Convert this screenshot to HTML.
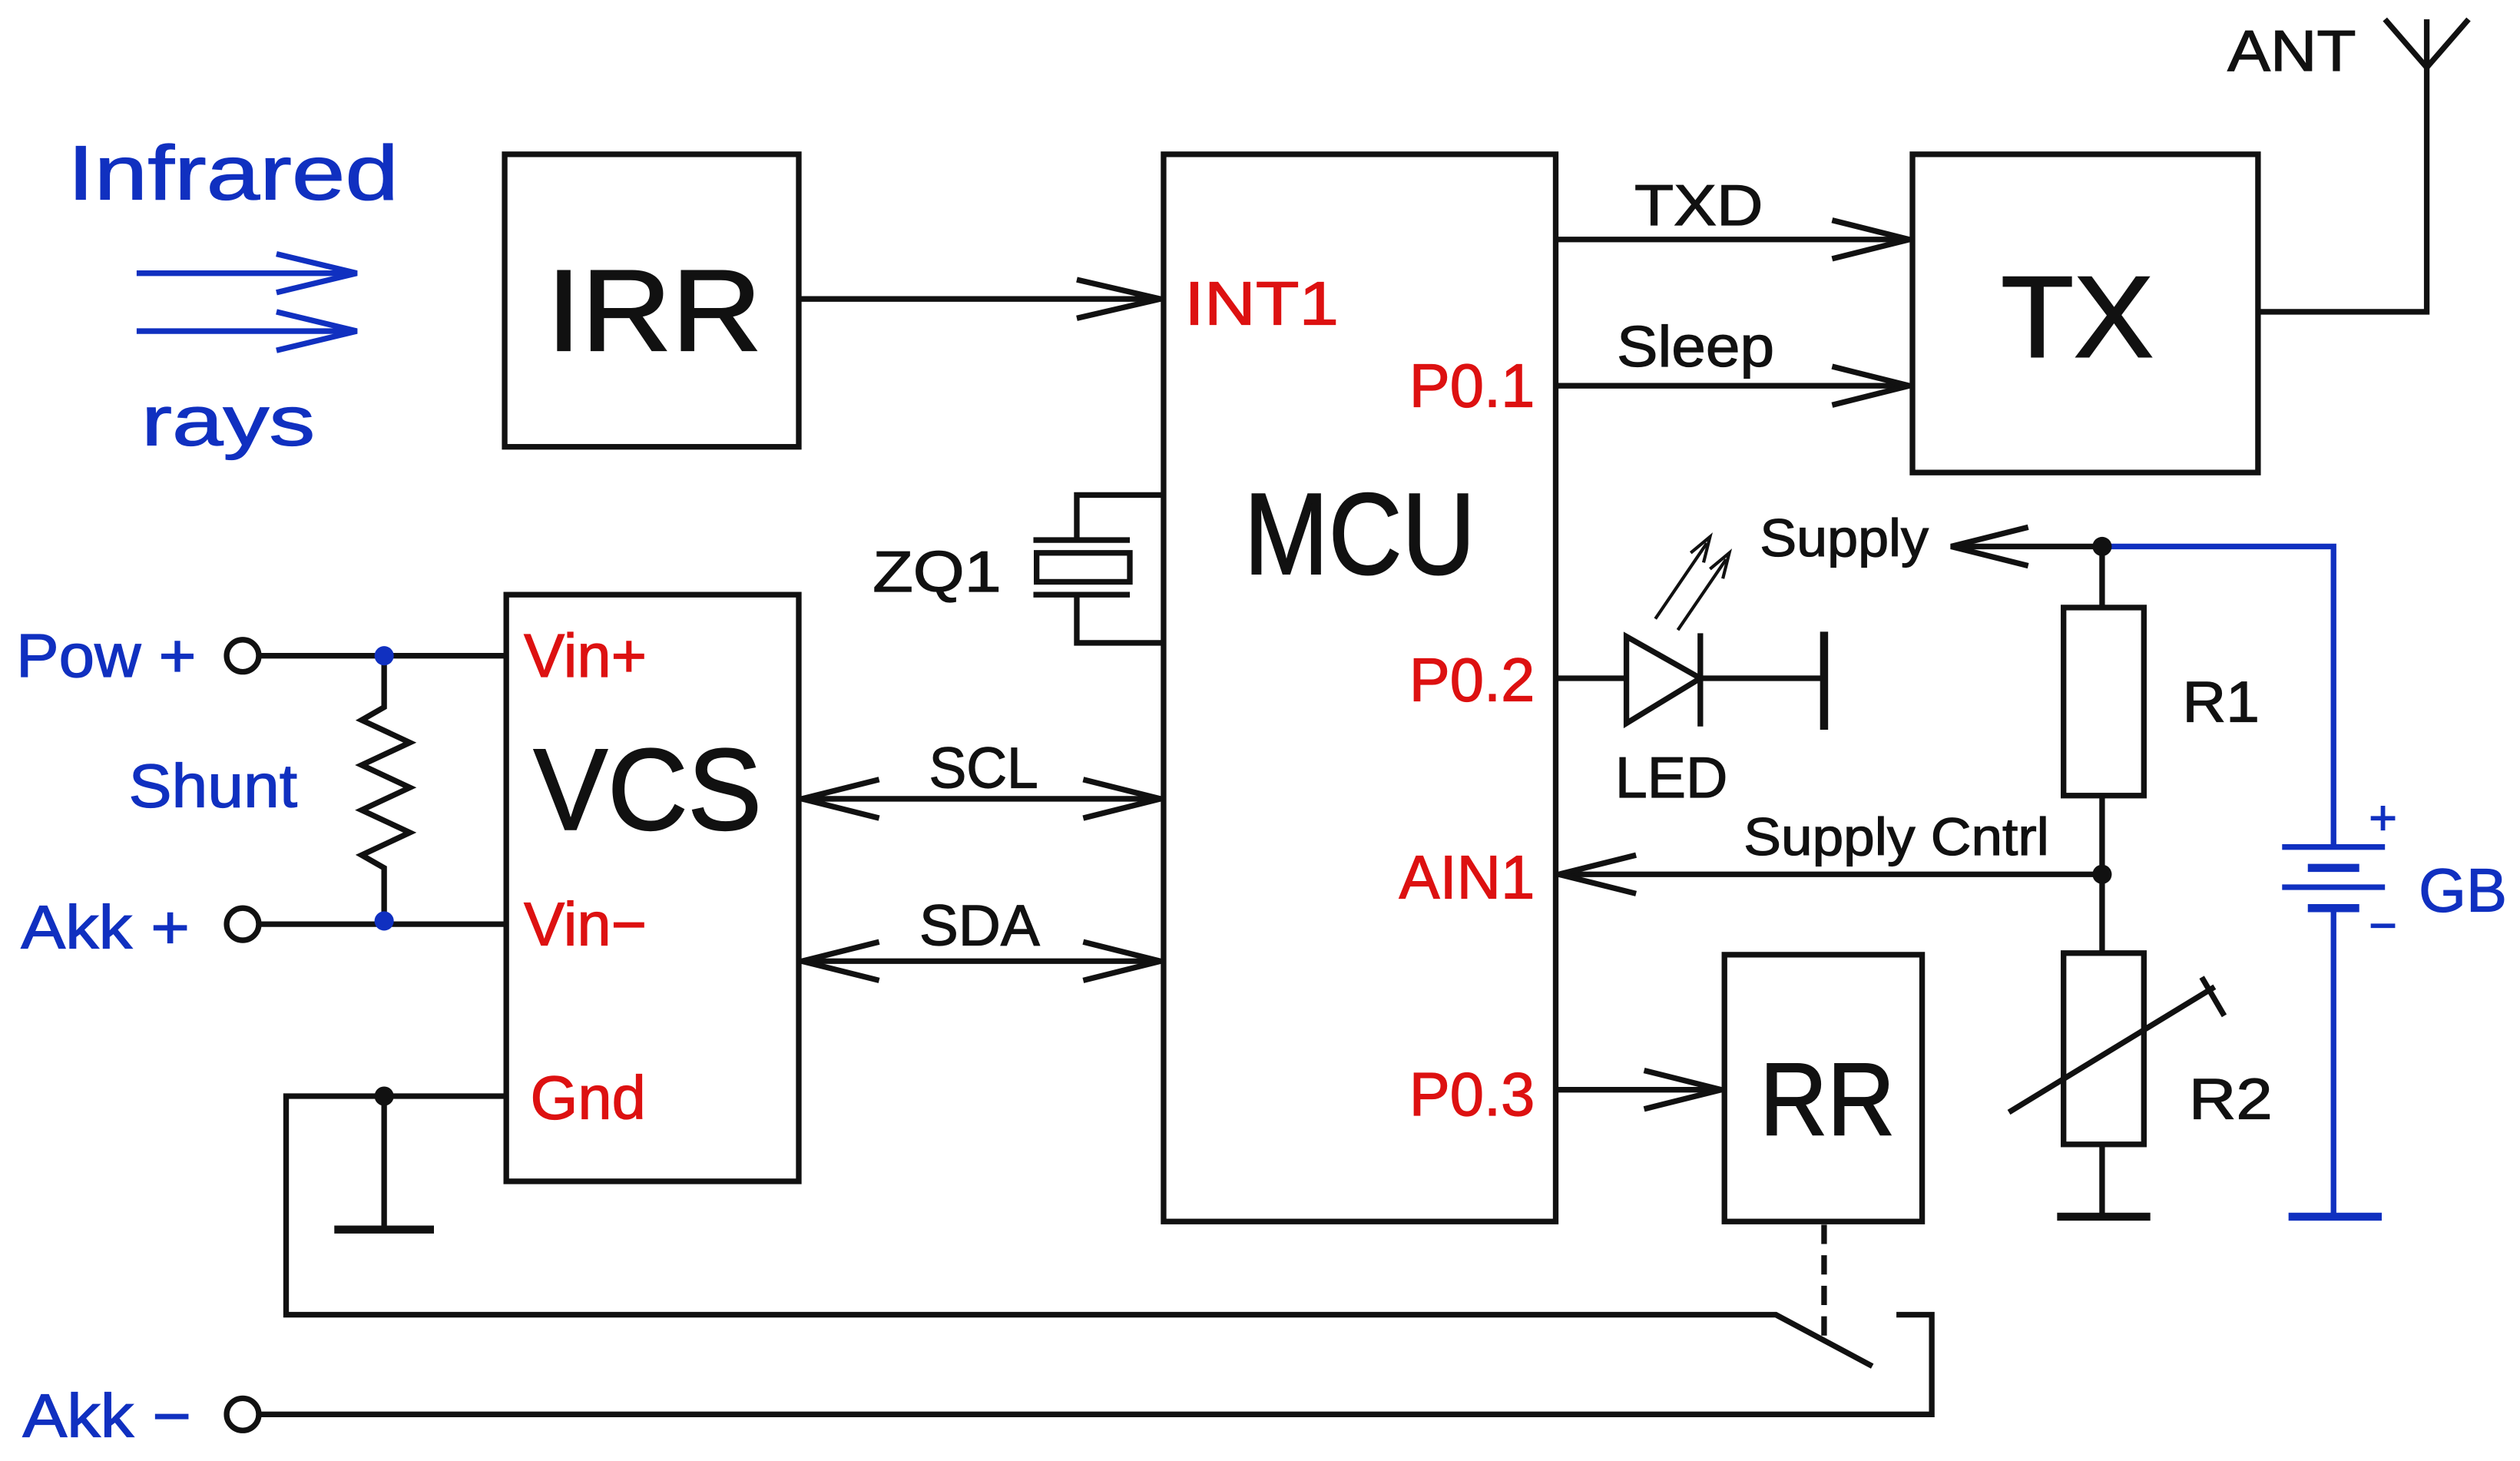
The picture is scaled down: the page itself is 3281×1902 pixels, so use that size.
<!DOCTYPE html>
<html><head><meta charset="utf-8"><style>
html,body{margin:0;padding:0;background:#fff;}
svg{display:block;}
text{font-family:"Liberation Sans",sans-serif;}
</style></head><body>
<svg width="3281" height="1902" viewBox="0 0 1568 909" xmlns="http://www.w3.org/2000/svg">
<rect width="1568" height="909" fill="#fff"/>
<g fill="none" stroke="#111" stroke-width="3.5" stroke-linejoin="miter" stroke-linecap="butt">
<rect x="314" y="96" width="183" height="182"/>
<rect x="724" y="96" width="244" height="664"/>
<rect x="1190" y="96" width="215" height="198"/>
<rect x="315" y="370" width="182" height="365"/>
<rect x="1073" y="594" width="123" height="166"/>
<line x1="497" y1="186" x2="722" y2="186"/>
<polyline points="670,174 722,186 670,198"/>
<line x1="968" y1="149" x2="1188" y2="149"/>
<polyline points="1140,137 1188,149 1140,161"/>
<line x1="968" y1="240" x2="1188" y2="240"/>
<polyline points="1140,228 1188,240 1140,252"/>
<polyline points="1405,194 1510,194 1510,12"/>
<line x1="1510" y1="42" x2="1484" y2="12"/>
<line x1="1510" y1="42" x2="1536" y2="12"/>
<polyline points="724,308 670,308 670,336"/>
<line x1="643" y1="336" x2="703" y2="336"/>
<rect x="645" y="344" width="58" height="18"/>
<line x1="643" y1="370" x2="703" y2="370"/>
<polyline points="670,370 670,400 724,400"/>
<line x1="499" y1="497" x2="722" y2="497"/>
<polyline points="547,485 499,497 547,509"/>
<polyline points="674,485 722,497 674,509"/>
<line x1="499" y1="598" x2="722" y2="598"/>
<polyline points="547,586 499,598 547,610"/>
<polyline points="674,586 722,598 674,610"/>
<circle cx="151" cy="408" r="10" fill="#fff"/>
<line x1="161" y1="408" x2="315" y2="408"/>
<circle cx="151" cy="575" r="10" fill="#fff"/>
<line x1="161" y1="575" x2="315" y2="575"/>
<polyline points="239,408 239,440 225,448 255,462 225,476 255,490 225,504 255,518 225,532 239,540 239,573"/>
<polyline points="315,682 178,682 178,818 1105,818 1165,850"/>
<line x1="239" y1="682" x2="239" y2="765"/>
<line x1="208" y1="765" x2="270" y2="765" stroke-width="5"/>
<line x1="1135" y1="762" x2="1135" y2="832" stroke-dasharray="12,7"/>
<polyline points="1180,818 1202,818 1202,880 161,880"/>
<circle cx="151" cy="880" r="10" fill="#fff"/>
<line x1="968" y1="422" x2="1012" y2="422"/>
<polygon points="1012,396 1012,450 1058,422"/>
<line x1="1058" y1="394" x2="1058" y2="452"/>
<line x1="1058" y1="422" x2="1135" y2="422"/>
<line x1="1135" y1="393" x2="1135" y2="454" stroke-width="5"/>
<line x1="1030" y1="385" x2="1062" y2="338" stroke-width="2"/>
<polyline points="1052,344 1064,334 1060,350" stroke-width="2"/>
<line x1="1044" y1="392" x2="1074" y2="348" stroke-width="2"/>
<polyline points="1064,354 1076,344 1072,360" stroke-width="2"/>
<line x1="1308" y1="340" x2="1214" y2="340"/>
<polyline points="1262,328 1214,340 1262,352"/>
<line x1="1308" y1="340" x2="1308" y2="378"/>
<rect x="1284" y="378" width="50" height="117"/>
<line x1="1308" y1="495" x2="1308" y2="593"/>
<line x1="1308" y1="544" x2="970" y2="544"/>
<polyline points="1018,532 970,544 1018,556"/>
<rect x="1284" y="593" width="50" height="119"/>
<line x1="1250" y1="692" x2="1378" y2="614"/>
<line x1="1370" y1="608" x2="1384" y2="632"/>
<line x1="1308" y1="712" x2="1308" y2="757"/>
<line x1="1280" y1="757" x2="1338" y2="757" stroke-width="5"/>
<line x1="968" y1="678" x2="1071" y2="678"/>
<polyline points="1023,666 1071,678 1023,690"/>
</g>
<g fill="none" stroke="#1030c0" stroke-width="3.5">
<polyline points="1308,340 1452,340 1452,527"/>
<line x1="1420" y1="527" x2="1484" y2="527"/>
<line x1="1436" y1="540" x2="1468" y2="540" stroke-width="5"/>
<line x1="1420" y1="552" x2="1484" y2="552"/>
<line x1="1436" y1="565" x2="1468" y2="565" stroke-width="5"/>
<line x1="1452" y1="565" x2="1452" y2="757"/>
<line x1="1424" y1="757" x2="1482" y2="757" stroke-width="5"/>
<line x1="85" y1="170" x2="222" y2="170"/>
<polyline points="172,158 222,170 172,182"/>
<line x1="85" y1="206" x2="222" y2="206"/>
<polyline points="172,194 222,206 172,218"/>
</g>
<g fill="#111"><circle cx="1308" cy="340" r="6"/><circle cx="1308" cy="544" r="6"/><circle cx="239" cy="682" r="6"/></g>
<g fill="#1030c0"><circle cx="239" cy="408" r="6"/><circle cx="239" cy="573" r="6"/></g>
<g fill="#111" font-size="72" stroke="#111" stroke-width="1">
<text x="340" y="218" textLength="134" lengthAdjust="spacingAndGlyphs">IRR</text>
<text x="774" y="357" textLength="144" lengthAdjust="spacingAndGlyphs">MCU</text>
<text x="1245" y="222" textLength="95" lengthAdjust="spacingAndGlyphs">TX</text>
<text x="332" y="516" textLength="142" lengthAdjust="spacingAndGlyphs">VCS</text>
<text x="1095" y="706" font-size="64" textLength="84" lengthAdjust="spacingAndGlyphs">RR</text>
</g>
<g fill="#111" font-size="36" stroke="#111" stroke-width="0.6">
<text x="1017" y="140" textLength="80" lengthAdjust="spacingAndGlyphs">TXD</text>
<text x="1006" y="228" textLength="98" lengthAdjust="spacingAndGlyphs">Sleep</text>
<text x="1386" y="44" textLength="80" lengthAdjust="spacingAndGlyphs">ANT</text>
<text x="543" y="368" textLength="80" lengthAdjust="spacingAndGlyphs">ZQ1</text>
<text x="578" y="490" textLength="68" lengthAdjust="spacingAndGlyphs">SCL</text>
<text x="572" y="588" textLength="75" lengthAdjust="spacingAndGlyphs">SDA</text>
<text x="1005" y="496" textLength="70" lengthAdjust="spacingAndGlyphs">LED</text>
<text x="1358" y="449" textLength="48" lengthAdjust="spacingAndGlyphs">R1</text>
<text x="1362" y="696" textLength="52" lengthAdjust="spacingAndGlyphs">R2</text>
<text x="1095" y="346" font-size="33" textLength="105" lengthAdjust="spacingAndGlyphs">Supply</text>
<text x="1085" y="532" font-size="33" textLength="190" lengthAdjust="spacingAndGlyphs">Supply Cntrl</text>
</g>
<g fill="#dd1111" font-size="38" stroke="#dd1111" stroke-width="0.6">
<text x="737" y="202" textLength="96" lengthAdjust="spacingAndGlyphs">INT1</text>
<text x="955" y="253" text-anchor="end">P0.1</text>
<text x="955" y="436" text-anchor="end">P0.2</text>
<text x="955" y="559" text-anchor="end">AIN1</text>
<text x="955" y="694" text-anchor="end">P0.3</text>
<text x="326" y="421">Vin+</text>
<text x="326" y="588">Vin−</text>
<text x="330" y="696">Gnd</text>
</g>
<g fill="#1030c0" font-size="38" stroke="#1030c0" stroke-width="0.6">
<text x="42" y="124" font-size="48" textLength="206" lengthAdjust="spacingAndGlyphs">Infrared</text>
<text x="88" y="277" font-size="44" textLength="108" lengthAdjust="spacingAndGlyphs">rays</text>
<text x="10" y="421" textLength="112" lengthAdjust="spacingAndGlyphs">Pow +</text>
<text x="80" y="502" textLength="105" lengthAdjust="spacingAndGlyphs">Shunt</text>
<text x="13" y="590" textLength="105" lengthAdjust="spacingAndGlyphs">Akk +</text>
<text x="14" y="894" textLength="105" lengthAdjust="spacingAndGlyphs">Akk −</text>
<text x="1505" y="567">GB</text>
<text x="1474" y="519" font-size="30">+</text>
<text x="1474" y="586" font-size="30">−</text>
</g>
</svg>
</body></html>
